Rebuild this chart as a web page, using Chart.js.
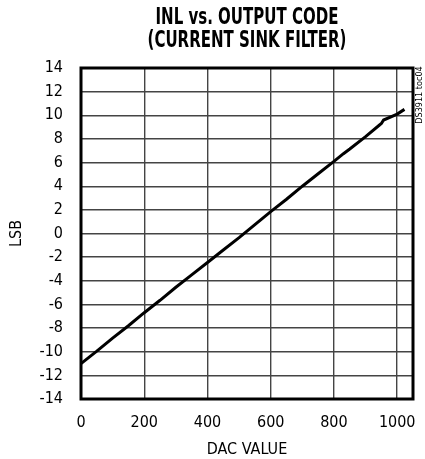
<!DOCTYPE html>
<html>
<head>
<meta charset="utf-8">
<script src="https://cdn.jsdelivr.net/npm/chart.js@4.4.1/dist/chart.umd.min.js"></script>
<style>
  html, body { margin: 0; padding: 0; background: #fff; }
  #wrap { width: 425px; height: 459px; }
</style>
</head>
<body>
<div id="wrap"><canvas id="myChart" width="425" height="459"></canvas></div>
<script>
const FONT = "'DejaVu Sans Condensed', 'Liberation Sans', sans-serif";

// DAC code vs. INL (LSB)
const dacCodes = [0, 50, 100, 150, 200, 250, 300, 350, 400, 450, 500, 550, 600, 650, 700, 750, 800, 830, 850, 900, 945, 950, 957, 1000, 1023];
const inlLsb = [-11.0, -9.95, -8.85, -7.8, -6.7, -5.65, -4.55, -3.5, -2.45, -1.4, -0.35, 0.75, 1.85, 2.9, 4.0, 5.05, 6.1, 6.75, 7.15, 8.2, 9.2, 9.3, 9.6, 10.1, 10.5];

const xTicks = [0, 200, 400, 600, 800, 1000];
const yTicks = [-14, -12, -10, -8, -6, -4, -2, 0, 2, 4, 6, 8, 10, 12, 14];

const titleLines = ["INL vs. OUTPUT CODE", "(CURRENT SINK FILTER)"];
const figureTag = "DS3911 toc04";

// heavy condensed title, thick frame round the plot and the small rotated tag
const framePlugin = {
  id: "frame",
  afterDatasetsDraw(chart) {
    const { ctx, chartArea: a } = chart;
    ctx.save();
    ctx.strokeStyle = "#000";
    ctx.lineWidth = 3;
    ctx.strokeRect(a.left, a.top, a.right - a.left, a.bottom - a.top);
    ctx.restore();
  },
  afterDraw(chart) {
    const { ctx, chartArea: a } = chart;
    const cx = (a.left + a.right) / 2;

    ctx.save();
    ctx.fillStyle = "#000";
    ctx.font = "bold 23px " + FONT;
    ctx.textAlign = "center";
    ctx.textBaseline = "middle";
    const squeeze = 183 / ctx.measureText(titleLines[0]).width;
    titleLines.forEach((line, i) => {
      ctx.save();
      ctx.translate(cx, 18 + i * 23);
      ctx.scale(squeeze, 1);
      ctx.fillText(line, 0, 0);
      ctx.restore();
    });
    ctx.restore();

    ctx.save();
    ctx.translate(a.right + 7, a.top + 27);
    ctx.rotate(-Math.PI / 2);
    ctx.fillStyle = "#000";
    ctx.font = "9px " + FONT;
    ctx.textAlign = "center";
    ctx.textBaseline = "middle";
    ctx.fillText(figureTag, 0, 0);
    ctx.restore();
  }
};

const ctx = document.getElementById("myChart").getContext("2d");

const myChart = new Chart(ctx, {
  type: "line",
  data: {
    datasets: [{
      data: dacCodes.map((x, i) => ({ x: x, y: inlLsb[i] })),
      borderColor: "#000",
      borderWidth: 3,
      pointRadius: 0,
      tension: 0,
      fill: false
    }]
  },
  options: {
    responsive: false,
    animation: false,
    devicePixelRatio: 1,
    layout: { padding: { left: 0, right: 12, top: 68, bottom: 0 } },
    plugins: {
      legend: { display: false },
      tooltip: { enabled: false },
      title: { display: false }
    },
    scales: {
      x: {
        type: "linear",
        min: 0,
        max: 1050,
        afterBuildTicks: (scale) => { scale.ticks = xTicks.map(v => ({ value: v })); },
        afterFit: (scale) => {
          scale.height = 60;
          scale.paddingLeft = 0;
          scale.paddingRight = 0;
        },
        grid: { color: "#444", lineWidth: 1.4, drawTicks: false },
        border: { display: false },
        ticks: {
          color: "#000",
          padding: 14,
          maxRotation: 0,
          font: { family: FONT, size: 16 },
          callback: (v) => String(v)
        },
        title: {
          display: true,
          text: "DAC VALUE",
          color: "#000",
          padding: { top: 2, bottom: 0 },
          font: { family: FONT, size: 16 }
        }
      },
      y: {
        type: "linear",
        min: -14,
        max: 14,
        afterBuildTicks: (scale) => { scale.ticks = yTicks.map(v => ({ value: v })); },
        afterFit: (scale) => {
          scale.width = 81;
          scale.paddingTop = 0;
          scale.paddingBottom = 0;
        },
        grid: { color: "#444", lineWidth: 1.4, drawTicks: false },
        border: { display: false },
        ticks: {
          color: "#000",
          padding: 18,
          font: { family: FONT, size: 16 },
          callback: (v) => String(v)
        },
        title: {
          display: true,
          text: "LSB",
          color: "#000",
          padding: { top: 7, bottom: 0 },
          font: { family: FONT, size: 16 }
        }
      }
    }
  },
  plugins: [framePlugin]
});
</script>
</body>
</html>
